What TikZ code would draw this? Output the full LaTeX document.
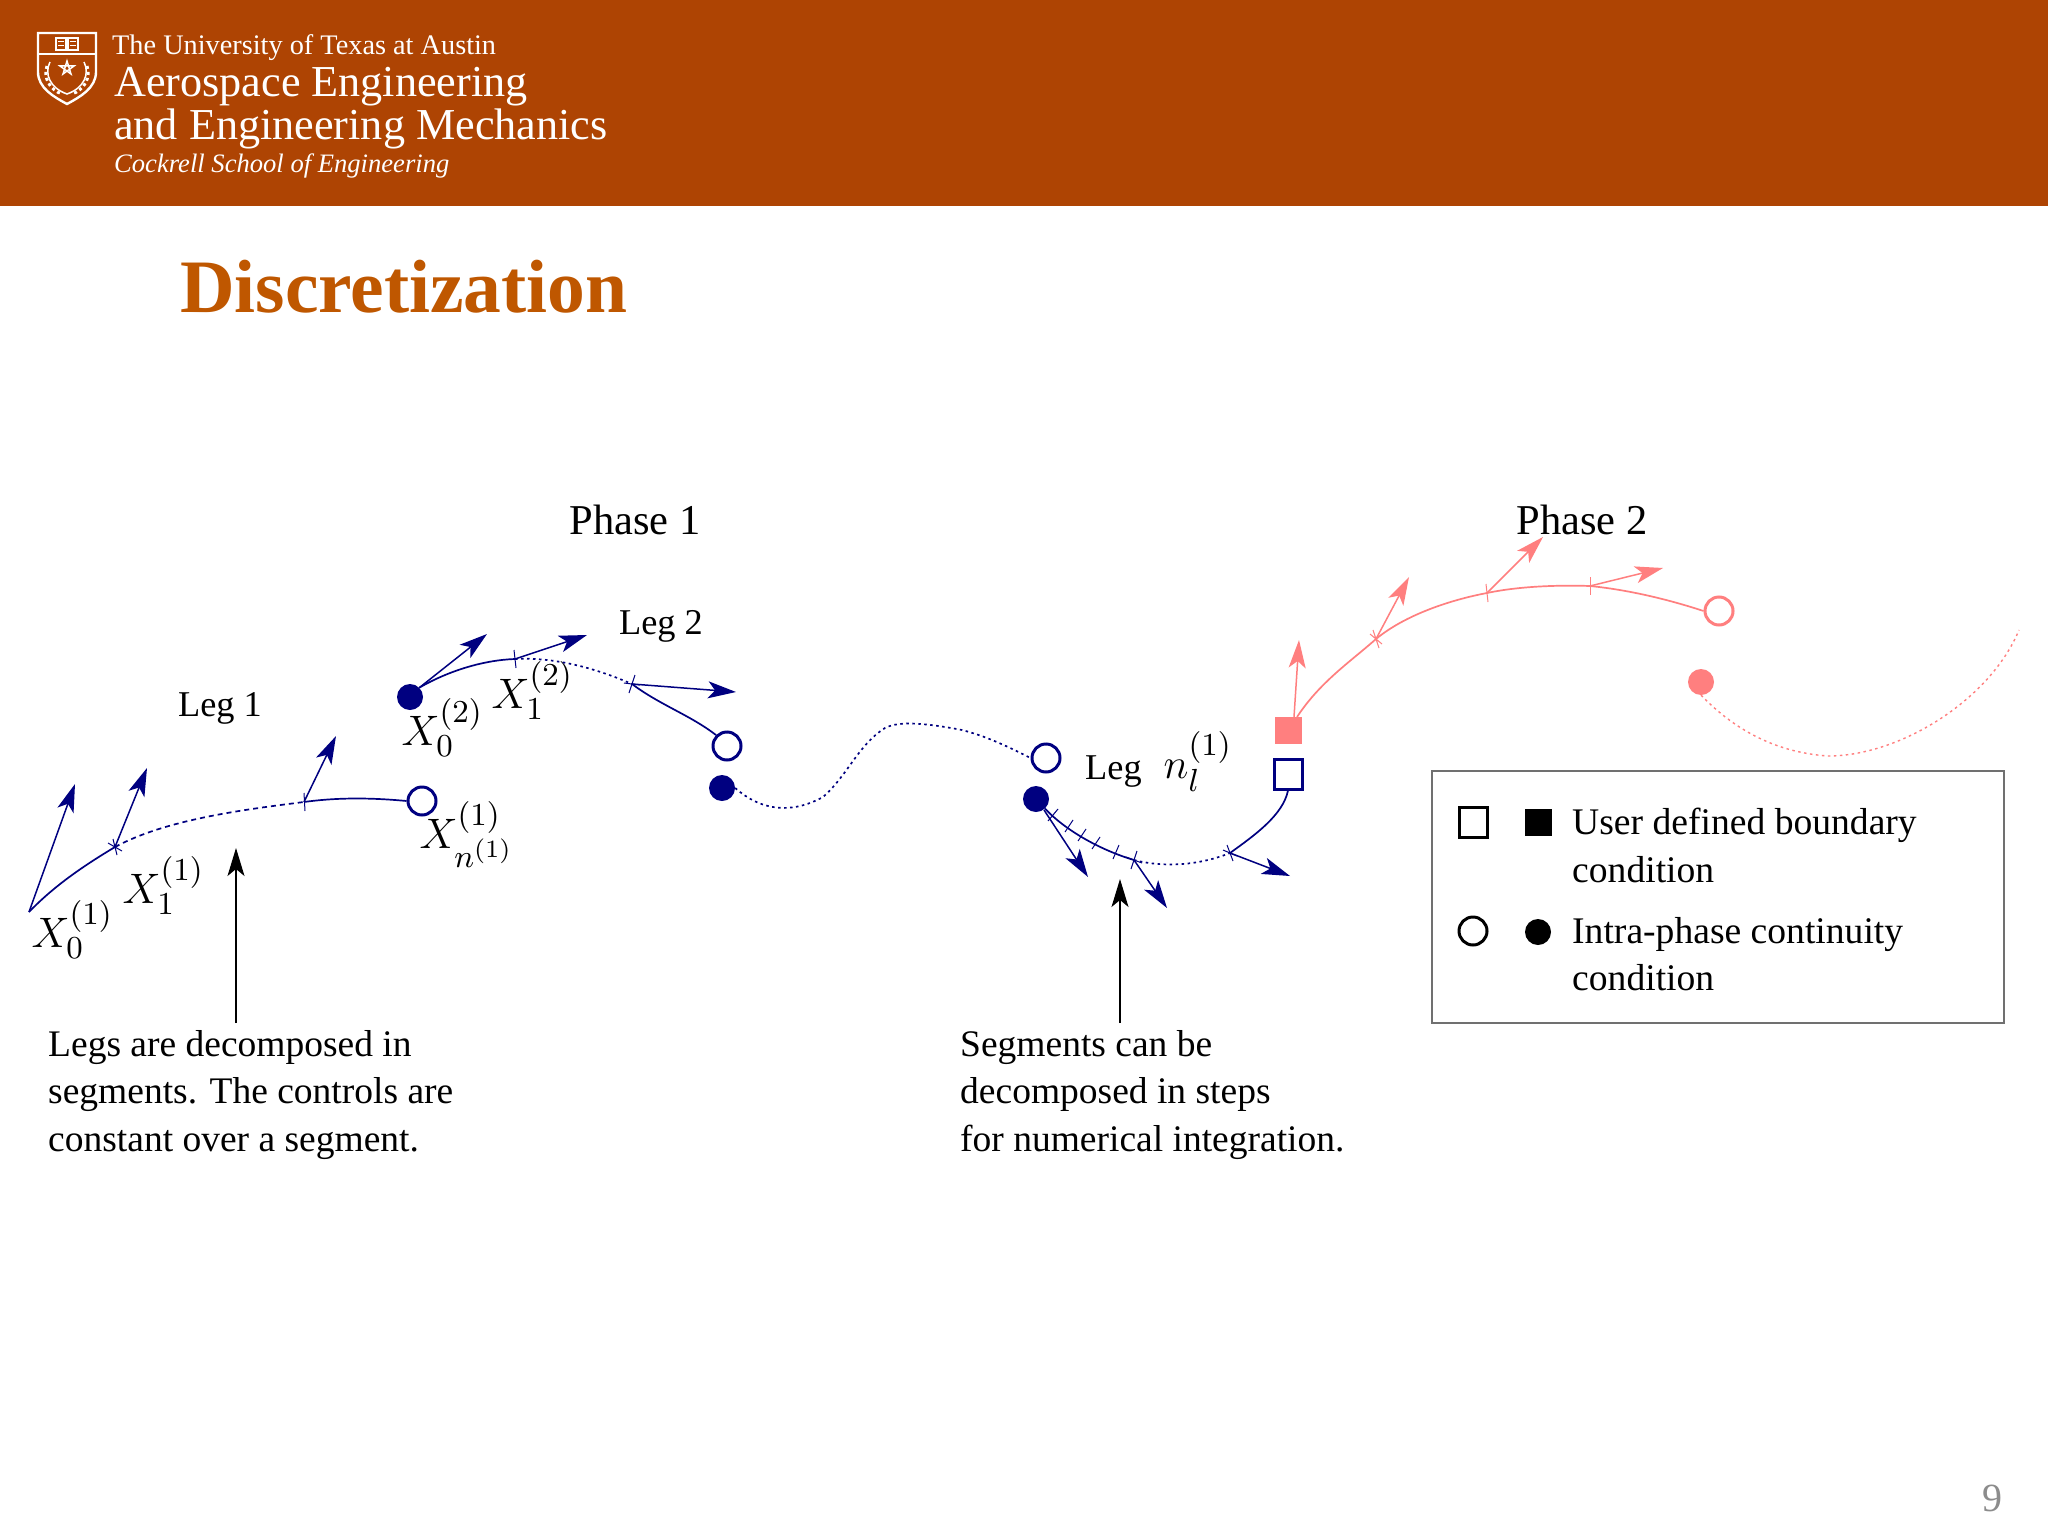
\documentclass[tikz,border=0pt]{standalone}
\usepackage{fontspec}
\setmainfont{Liberation Serif}
\newfontfamily\hdr{Liberation Serif}
\DeclareMathSizes{12}{12}{9}{7}
\usetikzlibrary{arrows.meta,shapes.geometric}
\definecolor{hdrbg}{HTML}{AE4403}
\definecolor{ttl}{HTML}{BF5700}
\definecolor{nv}{HTML}{000080}
\definecolor{pk}{HTML}{FF7F7F}
\definecolor{pgnum}{HTML}{8C8C8C}
\definecolor{boxgr}{HTML}{707070}
\tikzset{
 x=1pt,y=-1pt,
 hd/.style={anchor=base west,inner sep=0,text=white},
 txt/.style={anchor=base west,inner sep=0,font=\fontsize{37.5}{38}\selectfont},
 ltxt/.style={anchor=base west,inner sep=0,font=\fontsize{37.6}{38}\selectfont},
 mth/.style={anchor=base west,inner sep=0,font=\fontsize{12}{12}\selectfont,scale=3.55},
 opc/.style={circle,draw=#1,line width=3pt,fill=white,minimum size=28pt,inner sep=0},
 fdc/.style={circle,fill=#1,minimum size=26pt,inner sep=0},
 opsq/.style={rectangle,draw=#1,line width=3pt,fill=white,minimum width=28pt,minimum height=30pt,inner sep=0},
 fdsq/.style={rectangle,fill=#1,minimum width=27pt,minimum height=27pt,inner sep=0},
 seg/.style={line width=1.7pt,draw=#1},
 dsh/.style={line width=1.7pt,draw=#1,dash pattern=on 5pt off 4pt},
 dot/.style={line width=1.7pt,draw=#1,dash pattern=on 2.5pt off 3.5pt},
 ctl/.style={line width=1.5pt,draw=#1,-{Stealth[length=28pt,width=17pt,inset=7pt]}},
 tck/.style={line width=1pt,draw=#1},
 call/.style={line width=1.2pt,draw=black,-{Stealth[length=28pt,width=17pt,inset=7pt]}},
 shld/.style={draw=white,line width=1.5pt}
}
\begin{document}
\begin{tikzpicture}
\useasboundingbox (0,0) rectangle (2048,1536);
\fill[white] (0,0) rectangle (2048,1536);
\fill[hdrbg] (0,0) rectangle (2048,206);
% shield
\draw[white,line width=2.4pt] (38,33) -- (96,33) -- (96,72) .. controls (96,88) and (80,97) .. (67,104) .. controls (54,97) and (38,88) .. (38,72) -- cycle;
\draw[white,line width=2.4pt] (38,54) -- (96,54);
\draw[shld] (56,38) rectangle (66,50) (68,38) rectangle (78,50);
\draw[white,line width=1pt] (58,42) -- (64,42) (58,46) -- (64,46) (70,42) -- (76,42) (70,46) -- (76,46);
\draw[shld] (67,61) -- (71,74) -- (60,66) -- (74,66) -- (63,74) -- cycle;
\draw[shld] (50,62) .. controls (44,74) and (50,88) .. (67,94) .. controls (84,88) and (90,74) .. (84,62);
\draw[white,line width=3pt,dash pattern=on 3pt off 3pt] (47,66) .. controls (43,78) and (50,90) .. (62,94);
\draw[white,line width=3pt,dash pattern=on 3pt off 3pt] (87,66) .. controls (91,78) and (84,90) .. (72,94);
% header text
\node[hd,font=\hdr\fontsize{28.3}{30}\selectfont] (h1) at (112,55) {The University of Texas at Austin};
\node[hd,font=\hdr\fontsize{44.2}{44}\selectfont] (h2) at (114,97) {Aerospace Engineering};
\node[hd,font=\hdr\fontsize{44.2}{44}\selectfont] (h3) at (114,140) {and Engineering Mechanics};
\node[hd,font=\hdr\itshape\fontsize{26.6}{30}\selectfont] (h4) at (114,172) {Cockrell School of Engineering};
\node[anchor=base west,inner sep=0,text=ttl,font=\hdr\bfseries\fontsize{75.5}{72}\selectfont] (title) at (180,312) {Discretization};
\node[anchor=center,inner sep=0,text=pgnum,font=\fontsize{40}{40}\selectfont] (pg) at (1992,1498) {9};
% phase / leg labels
\node[inner sep=0,font=\fontsize{42.5}{42}\selectfont] (ph1) at (635,520) {Phase 1};
\node[inner sep=0,font=\fontsize{42.5}{42}\selectfont] (ph2) at (1582,520) {Phase 2};
\node[inner sep=0,font=\fontsize{36.3}{36}\selectfont] (leg1) at (220,708) {Leg 1};
\node[inner sep=0,font=\fontsize{36.3}{36}\selectfont] (leg2) at (661,626) {Leg 2};
\node[anchor=base west,inner sep=0,font=\fontsize{36.3}{36}\selectfont] (legn) at (1085,779) {Leg};
\node[mth] (legnm) at (1163,778) {$n_l^{(1)}$};
% state labels
\node[mth] (x01) at (31,947) {$X_0^{(1)}$};
\node[mth] (x11) at (122,903) {$X_1^{(1)}$};
\node[mth] (xn1) at (419,848) {$X_{n^{(1)}}^{(1)}$};
\node[mth] (x02) at (401,745) {$X_0^{(2)}$};
\node[mth] (x12) at (491,708) {$X_1^{(2)}$};
% -------- Leg 1
\coordinate (a0) at (29,912);
\coordinate (a1) at (115,847);
\coordinate (a2) at (304,802);
\node[opc=nv] (a3) at (422,801) {};
\draw[seg=nv] (a0) .. controls (55,885) and (85,865) .. (a1);
\draw[dsh=nv] (a1) .. controls (165,820) and (240,810) .. (a2);
\draw[seg=nv] (a2) .. controls (340,797) and (375,798) .. (a3.west);
\draw[ctl=nv] (a0) -- (75,784);
\draw[ctl=nv] (a1) -- (147,768);
\draw[ctl=nv] (a2) -- (336,736);
\draw[tck=nv] (a1) ++(-2,-8) -- ++(4,16) (a1) ++(-7,-4) -- ++(14,8);
\draw[tck=nv] (a2) ++(0,-9) -- ++(1,18);
% -------- Leg 2
\node[fdc=nv] (b0) at (410,697) {};
\coordinate (b1) at (515,659);
\coordinate (b2) at (632,684);
\node[opc=nv] (b3) at (727,746) {};
\draw[seg=nv] (b0.north east) .. controls (450,670) and (485,660) .. (b1);
\draw[dot=nv] (b1) .. controls (555,657) and (595,668) .. (b2);
\draw[seg=nv] (b2) .. controls (660,705) and (690,715) .. (b3.north west);
\draw[ctl=nv] (b0.north east) -- (487,634);
\draw[ctl=nv] (b1) -- (587,635);
\draw[ctl=nv] (b2) -- (736,692);
\draw[tck=nv] (b1) ++(-1,-9) -- ++(2,18);
\draw[tck=nv] (b2) ++(3,-9) -- ++(-6,18) (b2) ++(-8,-1) -- ++(16,2);
% -------- Middle legs
\node[fdc=nv] (c0) at (722,788) {};
\node[opc=nv] (c1) at (1046,758) {};
\draw[dot=nv] (c0.east) .. controls (760,810) and (790,815) .. (823,797) .. controls (848,775) and (858,745) .. (885,728) .. controls (900,720) and (930,724) .. (962,730) .. controls (985,736) and (1005,745) .. (c1.west);
% -------- Last leg
\node[fdc=nv] (d0) at (1036,799) {};
\coordinate (d1) at (1053,815);
\coordinate (d2) at (1069,826);
\coordinate (d3) at (1082,835);
\coordinate (d4) at (1096,843);
\coordinate (d5) at (1116,852);
\coordinate (d6) at (1134,860);
\coordinate (d7) at (1230,853);
\node[opsq=nv] (d8) at (1288,774) {};
\draw[seg=nv] (d0) .. controls (1065,830) and (1100,850) .. (d6);
\draw[dot=nv] (d6) .. controls (1165,868) and (1200,865) .. (d7);
\draw[seg=nv] (d7) .. controls (1255,835) and (1283,815) .. (d8.south);
\draw[ctl=nv] (1044,810) -- (1088,877);
\draw[ctl=nv] (d6) -- (1167,908);
\draw[ctl=nv] (d7) -- (1290,876);
\foreach \p/\dx/\dy in {d1/5/-6,d2/4/-6,d3/4/-6,d4/4/-6,d5/3/-7,d6/3/-9,d7/-3/-8}{
 \draw[tck=nv] (\p) ++(\dx,\dy) -- ++(-2*\dx,-2*\dy);}
\draw[tck=nv] (d6) ++(-8,-3) -- ++(16,6);
\draw[tck=nv] (d7) ++(-7,-3) -- ++(14,6);
% -------- Phase 2
\node[fdsq=pk] (e0) at (1288,730) {};
\coordinate (e5) at (1297,717);
\coordinate (e1) at (1376,639);
\coordinate (e2) at (1487,593);
\coordinate (e3) at (1590,586);
\node[opc=pk] (e4) at (1719,611) {};
\draw[seg=pk] (e5) .. controls (1320,682) and (1350,662) .. (e1) .. controls (1405,615) and (1450,600) .. (e2) .. controls (1520,586) and (1560,585) .. (e3) .. controls (1630,590) and (1670,600) .. (e4.west);
\draw[ctl=pk] (1294,717) -- (1299,640);
\draw[ctl=pk] (e1) -- (1409,577);
\draw[ctl=pk] (e2) -- (1543,537);
\draw[ctl=pk] (e3) -- (1663,568);
\draw[tck=pk] (e1) ++(-3,-9) -- ++(6,18) (e1) ++(-6,-5) -- ++(12,10);
\draw[tck=pk] (e2) ++(-1,-9) -- ++(2,18);
\draw[tck=pk] (e3) ++(0,-9) -- ++(0,18);
\node[fdc=pk] (f0) at (1701,682) {};
\draw[dot=pk,line width=1.4pt] (f0.south) .. controls (1730,725) and (1770,752) .. (1828,756) .. controls (1900,756) and (1990,700) .. (2019,630);
% -------- Callouts
\coordinate (s1) at (236,1023);
\coordinate (t1) at (236,848);
\coordinate (s2) at (1120,1023);
\coordinate (t2) at (1120,879);
\draw[call] (s1) -- (t1);
\draw[call] (s2) -- (t2);
\node[txt] (n1) at (48,1056) {Legs are decomposed in};
\node[txt] (n2) at (48,1103) {segments. The controls are};
\node[txt] (n3) at (48,1151) {constant over a segment.};
\node[txt] (m1) at (960,1056) {Segments can be};
\node[txt] (m2) at (960,1103) {decomposed in steps};
\node[txt] (m3) at (960,1151) {for numerical integration.};
% -------- Legend
\node[rectangle,draw=boxgr,line width=1.6pt,minimum width=572pt,minimum height=252pt,inner sep=0] (lg) at (1718,897) {};
\node[opsq=black] (k1) at (1473,822) {};
\node[fdsq=black] (k2) at (1538,822) {};
\node[opc=black] (k3) at (1473,931) {};
\node[fdc=black] (k4) at (1538,932) {};
\node[ltxt] (l1) at (1572,834) {User defined boundary};
\node[ltxt] (l2) at (1572,882) {condition};
\node[ltxt] (l3) at (1572,943) {Intra-phase continuity};
\node[ltxt] (l4) at (1572,990) {condition};
\end{tikzpicture}
\end{document}
